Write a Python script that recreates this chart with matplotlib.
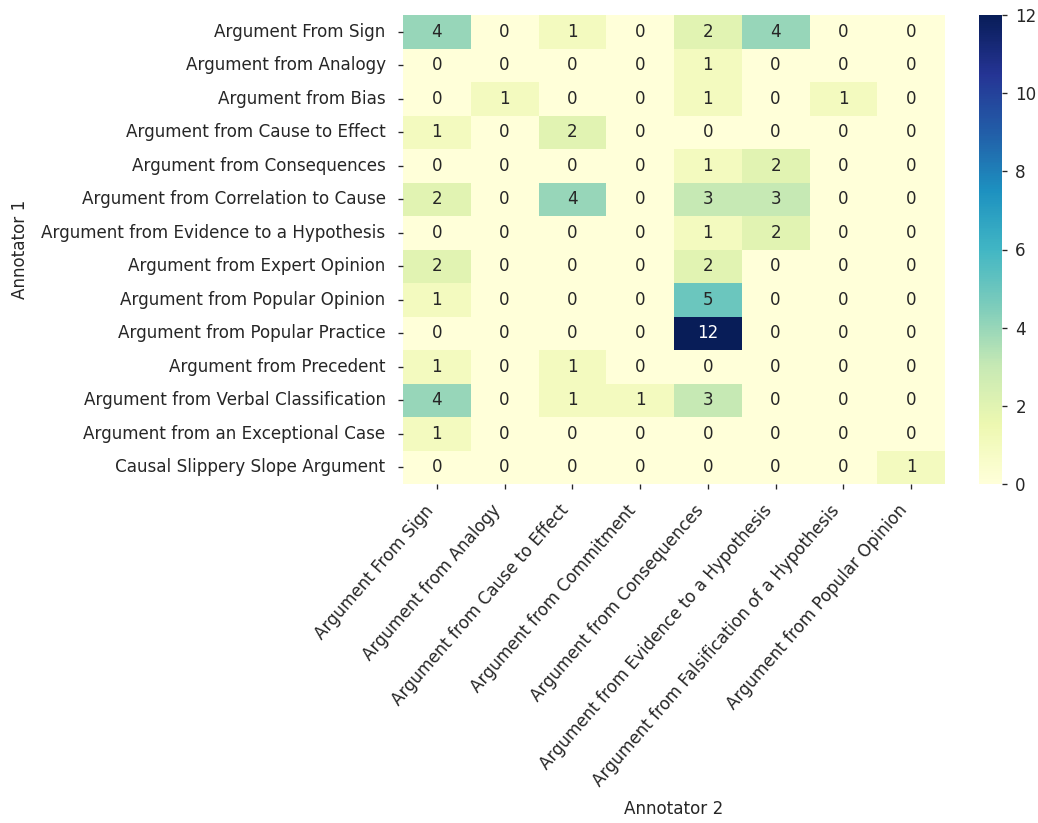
import matplotlib
matplotlib.use("Agg")
import matplotlib.pyplot as plt
import seaborn as sns
import numpy as np
import pandas as pd

rows = ["Argument From Sign", "Argument from Analogy", "Argument from Bias",
        "Argument from Cause to Effect", "Argument from Consequences",
        "Argument from Correlation to Cause", "Argument from Evidence to a Hypothesis",
        "Argument from Expert Opinion", "Argument from Popular Opinion",
        "Argument from Popular Practice", "Argument from Precedent",
        "Argument from Verbal Classification", "Argument from an Exceptional Case",
        "Causal Slippery Slope Argument"]
cols = ["Argument From Sign", "Argument from Analogy", "Argument from Cause to Effect",
        "Argument from Commitment", "Argument from Consequences",
        "Argument from Evidence to a Hypothesis",
        "Argument from Falsification of a Hypothesis", "Argument from Popular Opinion"]
values = [
    [4, 0, 1, 0, 2, 4, 0, 0],
    [0, 0, 0, 0, 1, 0, 0, 0],
    [0, 1, 0, 0, 1, 0, 1, 0],
    [1, 0, 2, 0, 0, 0, 0, 0],
    [0, 0, 0, 0, 1, 2, 0, 0],
    [2, 0, 4, 0, 3, 3, 0, 0],
    [0, 0, 0, 0, 1, 2, 0, 0],
    [2, 0, 0, 0, 2, 0, 0, 0],
    [1, 0, 0, 0, 5, 0, 0, 0],
    [0, 0, 0, 0, 12, 0, 0, 0],
    [1, 0, 1, 0, 0, 0, 0, 0],
    [4, 0, 1, 1, 3, 0, 0, 0],
    [1, 0, 0, 0, 0, 0, 0, 0],
    [0, 0, 0, 0, 0, 0, 0, 1],
]

df = pd.DataFrame(values, index=rows, columns=cols)

FS = 10.05
dark = "#262626"
plt.rcParams.update({"text.color": dark, "axes.labelcolor": dark,
                     "xtick.color": dark, "ytick.color": dark,
                     "font.size": FS, "font.family": ["DejaVu Sans"]})

W, H = 1038, 823
DPI = 120
fig = plt.figure(figsize=(W / DPI, H / DPI), dpi=DPI)
ax = fig.add_axes([403 / W, 1 - 484 / H, (945 - 403) / W, (484 - 15) / H])
cax = fig.add_axes([979 / W, 1 - 484 / H, (1002 - 979) / W, (484 - 15) / H])

sns.heatmap(df, annot=True, cmap="YlGnBu", vmin=0, vmax=12, ax=ax, cbar_ax=cax,
            annot_kws={"fontsize": FS})
ax.set_xticklabels(ax.get_xticklabels(), rotation=49, ha="right", fontsize=FS)
ax.set_yticklabels(ax.get_yticklabels(), rotation=0, fontsize=FS)
ax.tick_params(axis="both", length=3, pad=7.5)
ax.set_xlabel("Annotator 2", fontsize=FS, labelpad=6)
ax.set_ylabel("Annotator 1", fontsize=FS, labelpad=7.5)
cax.tick_params(labelsize=FS, length=3, pad=5)
cax.set_yticks([0, 2, 4, 6, 8, 10, 12])

fig.savefig("out.png", dpi=DPI)
